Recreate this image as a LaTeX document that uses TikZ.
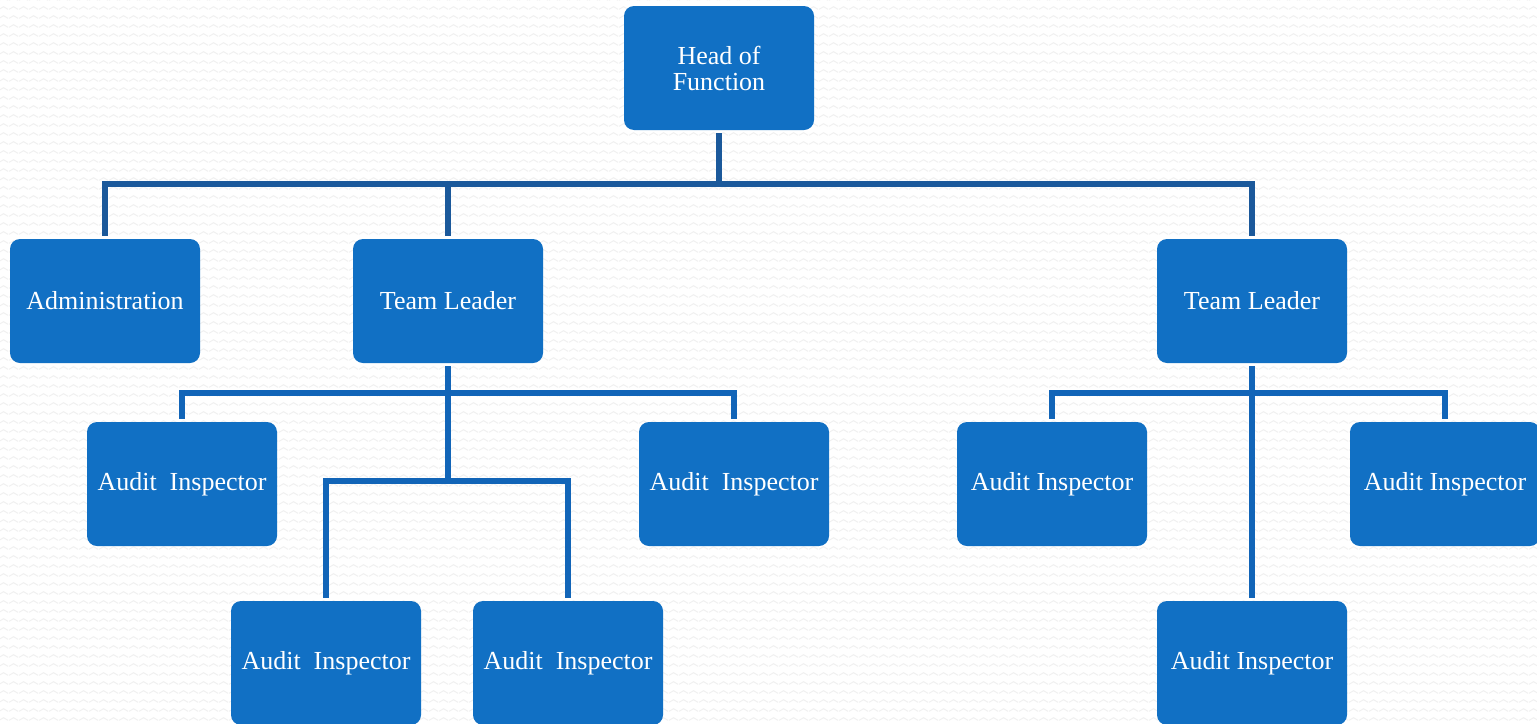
\documentclass[tikz,border=0pt]{standalone}
\usepackage{fontspec}
\setmainfont{Liberation Serif}
\usetikzlibrary{patterns}
\definecolor{unitblue}{RGB}{17,112,196}
\definecolor{toplink}{RGB}{27,89,155}
\definecolor{sublink}{RGB}{18,101,184}
\pgfdeclarepatternformonly{bgwave}{\pgfpointorigin}{\pgfqpoint{5pt}{4.25pt}}{\pgfqpoint{5pt}{4.25pt}}{
  \pgfsetlinewidth{0.5pt}
  \pgfpathmoveto{\pgfqpoint{0pt}{1.4pt}}
  \pgfpathlineto{\pgfqpoint{2.5pt}{2.8pt}}
  \pgfpathlineto{\pgfqpoint{5pt}{1.4pt}}
  \pgfusepath{stroke}
}
\tikzset{
  unit/.style={draw=none, fill=unitblue, text=white, rounded corners=5pt,
    minimum width=95pt, minimum height=62pt, inner sep=1pt, outer sep=1.5pt,
    align=center, font=\fontsize{13}{13}\selectfont},
  link/.style={line width=2.6pt, draw=sublink}
}
\begin{document}
\begin{tikzpicture}[x=0.5pt, y=-0.5pt]
      \useasboundingbox (0,0) rectangle (1537,723);
      \clip (0,0) rectangle (1537,723);
      \fill[white] (0,0) rectangle (1537,723);
      \fill[pattern=bgwave, pattern color=black!6] (0,0) rectangle (1537,723);
      \draw
        (719,68) node[unit] (head){Head of\\Function}
        (105,301) node[unit] (admin){Administration}
        (448,301) node[unit] (lead1){Team Leader}
        (1252,301) node[unit] (lead2){Team Leader}
        (182,484) node[unit] (insp1){Audit\ \ Inspector}
        (734,484) node[unit] (insp2){Audit\ \ Inspector}
        (326,663) node[unit] (insp3){Audit\ \ Inspector}
        (568,663) node[unit] (insp4){Audit\ \ Inspector}
        (1052,484) node[unit] (insp5){Audit Inspector}
        (1445,484) node[unit] (insp6){Audit Inspector}
        (1252,663) node[unit] (insp7){Audit Inspector};
      \coordinate (topbus) at (719,184);
      \coordinate (bus1) at (448,393);
      \coordinate (bus2) at (448,481);
      \coordinate (bus3) at (1252,393);
      \begin{scope}[link]
        \draw[draw=toplink] (head) to (topbus);
        \draw[draw=toplink] (topbus) -| (admin.north);
        \draw[draw=toplink] (topbus) -| (lead1.north);
        \draw[draw=toplink] (topbus) -| (lead2.north);
        \draw (lead1) to (bus2);
        \draw (bus1) -| (insp1.north);
        \draw (bus1) -| (insp2.north);
        \draw (bus2) -| (insp3.north);
        \draw (bus2) -| (insp4.north);
        \draw (lead2) to (insp7);
        \draw (bus3) -| (insp5.north);
        \draw (bus3) -| (insp6.north);
      \end{scope}
    \end{tikzpicture}
\end{document}
